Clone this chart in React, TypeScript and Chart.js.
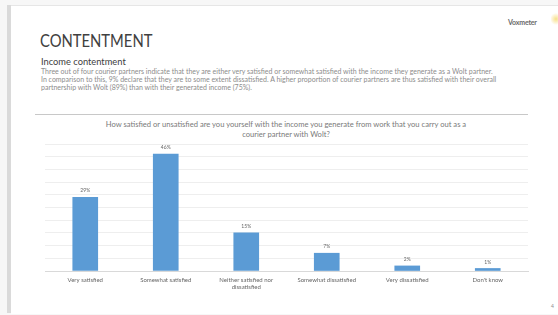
import React, { useEffect, useRef } from "react";
import { Chart, registerables } from "chart.js";

Chart.register(...registerables);

const categories: (string | string[])[] = [
  "Very satisfied",
  "Somewhat satisfied",
  ["Neither satisfied nor", "dissatisfied"],
  "Somewhat dissatisfied",
  "Very dissatisfied",
  "Don't know",
];
const shares = [29, 46, 15, 7, 2, 1];
const valueLabels = ["29%", "46%", "15%", "7%", "2%", "1%"];

const FONT = "Lato, 'Noto Sans', sans-serif";

const labelPlugin = {
  id: "barLabels",
  afterDatasetsDraw(chart: any) {
    const ctx = chart.ctx;
    const meta = chart.getDatasetMeta(0);
    ctx.save();
    ctx.font = `5px ${FONT}`;
    ctx.fillStyle = "#666666";
    ctx.textAlign = "center";
    ctx.textBaseline = "bottom";
    meta.data.forEach((bar: any, i: number) => {
      ctx.fillText(valueLabels[i], bar.x, bar.y - 4);
    });
    ctx.restore();
  },
};

function BarChart() {
  const ref = useRef<HTMLCanvasElement | null>(null);
  useEffect(() => {
    if (!ref.current) return;
    const chart = new Chart(ref.current, {
      type: "bar",
      data: {
        labels: categories,
        datasets: [
          {
            data: shares,
            backgroundColor: "#5b9bd5",
            borderColor: "#5b9bd5",
            borderWidth: 0,
            barThickness: 25,
          },
        ],
      },
      options: {
        animation: false,
        responsive: false,
        maintainAspectRatio: false,
        layout: { padding: { left: 5, right: 7, top: 8, bottom: 0 } },
        plugins: { legend: { display: false }, tooltip: { enabled: false } },
        scales: {
          x: {
            grid: { display: false, drawTicks: false },
            border: { display: true, color: "#d9d9d9" },
            ticks: {
              font: { size: 6, family: FONT },
              color: "#666666",
              padding: 5,
              maxRotation: 0,
              autoSkip: false,
            },
            afterFit: (s: any) => {
              s.height = 30;
            },
          },
          y: {
            min: 0,
            max: 50,
            ticks: { display: false, stepSize: 5 },
            grid: { color: "#eeeeee", drawTicks: false },
            border: { display: false },
            afterFit: (s: any) => {
              s.width = 0;
            },
          },
        },
      },
      plugins: [labelPlugin],
    });
    return () => chart.destroy();
  }, []);
  return (
    <canvas
      ref={ref}
      width={495}
      height={165}
      style={{ position: "absolute", left: 40, top: 136, width: 495, height: 165 }}
    />
  );
}

export default function App() {
  const abs = (o: React.CSSProperties): React.CSSProperties => ({ position: "absolute", whiteSpace: "nowrap", ...o });
  return (
    <div
      style={{
        position: "fixed",
        left: 0,
        top: 0,
        width: 558,
        height: 315,
        background: "#f7f7f7",
        overflow: "hidden",
        fontFamily: FONT,
      }}
    >
      <div style={abs({ left: 11, top: 5, width: 547, height: 308, background: "#ffffff", borderTop: "1px solid #e6e6e6" })} />
      <div style={abs({ left: 7, top: 5, width: 4, height: 308, background: "#dadada" })} />
      <div style={abs({ left: 508, top: 18, fontSize: 7, fontWeight: 700, color: "#6b6b6b", letterSpacing: -0.2 })}>Voxmeter</div>
      <div style={abs({ left: 551, top: 12, width: 10, height: 14, borderRadius: 7, background: "radial-gradient(circle, #f7e08a 0%, rgba(255,255,255,0) 70%)" })} />
      <div style={abs({ left: 40, top: 30, fontSize: 17, color: "#404040", transform: "scaleX(0.87)", transformOrigin: "left top" })}>CONTENTMENT</div>
      <div style={abs({ left: 41, top: 56, fontSize: 9.3, color: "#404040" })}>Income contentment</div>
      <div style={abs({ left: 41, top: 67, fontSize: 7, color: "#8c8c8c", lineHeight: "8px" })}>
        Three out of four courier partners indicate that they are either very satisfied or somewhat satisfied with the income they generate as a Wolt partner.
        <br />
        In comparison to this, 9% declare that they are to some extent dissatisfied. A higher proportion of courier partners are thus satisfied with their overall
        <br />
        partnership with Wolt (89%) than with their generated income (75%).
      </div>
      <div style={abs({ left: 35, top: 114, width: 493, height: 1, background: "#c8c8c8" })} />
      <div style={abs({ left: 60, top: 119, width: 452, fontSize: 7.6, color: "#7a7a7a", textAlign: "center", lineHeight: "10px" })}>
        How satisfied or unsatisfied are you yourself with the income you generate from work that you carry out as a
        <br />
        courier partner with Wolt?
      </div>
      <BarChart />
      <div style={abs({ left: 551, top: 303, fontSize: 5, color: "#8c8c8c" })}>4</div>
    </div>
  );
}
